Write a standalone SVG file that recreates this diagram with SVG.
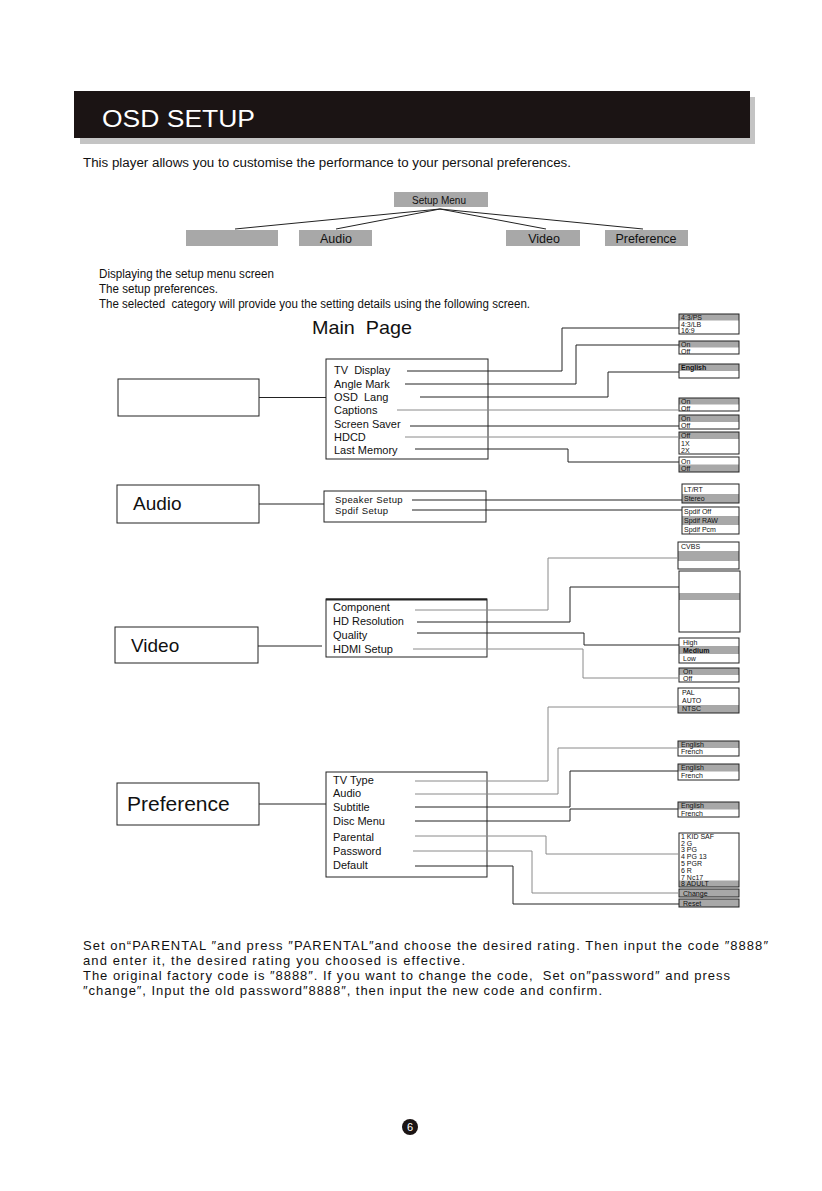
<svg xmlns="http://www.w3.org/2000/svg" width="822" height="1191" viewBox="0 0 822 1191">
<style>
text{white-space:pre}
.bx{fill:#fff;stroke:#222;stroke-width:1}
.ob{fill:none;stroke:#222;stroke-width:1}
.gr{fill:#a8a8a8}
.t7{font-family:"Liberation Sans",Arial,sans-serif;font-size:7px;fill:#111}
.t11{font-family:"Liberation Sans",Arial,sans-serif;font-size:11px;fill:#111}
.t12{font-family:"Liberation Sans",Arial,sans-serif;font-size:12px;fill:#111}
.t13{font-family:"Liberation Sans",Arial,sans-serif;font-size:13px;fill:#111}
.c{fill:none;stroke:#222;stroke-width:1}
.cg{fill:none;stroke:#8a8a8a;stroke-width:1}
</style>
<rect width="822" height="1191" fill="#fff"/>
<!-- header -->
<g id="header">
<rect x="80" y="97" width="675" height="47" fill="#c4c4c4"/>
<rect x="74" y="91" width="676" height="47" fill="#1b1414"/>
<text x="102" y="127" font-family="Liberation Sans,Arial,sans-serif" font-size="24" fill="#fff" textLength="153" lengthAdjust="spacingAndGlyphs">OSD SETUP</text>
</g>
<text class="t12" x="83" y="167" textLength="488" lengthAdjust="spacingAndGlyphs">This player allows you to customise the performance to your personal preferences.</text>

<!-- top setup menu tree -->
<g id="setup-tree">
<g id="setup-menu"><rect x="394" y="192" width="94" height="15" class="gr"/><text x="439" y="203.5" text-anchor="middle" font-family="Liberation Sans,Arial,sans-serif" font-size="10" fill="#111">Setup Menu</text></g>
<g id="top-blank"><rect x="186" y="230" width="92" height="16" class="gr"/></g>
<g id="top-audio"><rect x="299" y="230" width="73" height="16" class="gr"/><text x="336" y="243" text-anchor="middle" font-family="Liberation Sans,Arial,sans-serif" font-size="12.5" fill="#111">Audio</text></g>
<g id="top-video"><rect x="506" y="230" width="74" height="16" class="gr"/><text x="544" y="243" text-anchor="middle" font-family="Liberation Sans,Arial,sans-serif" font-size="12.5" fill="#111">Video</text></g>
<g id="top-pref"><rect x="605" y="230" width="83" height="16" class="gr"/><text x="646" y="243" text-anchor="middle" font-family="Liberation Sans,Arial,sans-serif" font-size="12.5" fill="#111">Preference</text></g>
<g id="top-connectors" class="c">
<path d="M440 209 L235 229"/>
<path d="M440 209 L336 229"/>
<path d="M440 209 L546 229"/>
<path d="M440 209 L643 229"/>
</g>
</g>

<text class="t12" x="99" y="278" textLength="175" lengthAdjust="spacingAndGlyphs">Displaying the setup menu screen</text>
<text class="t12" x="99" y="293" textLength="119" lengthAdjust="spacingAndGlyphs">The setup preferences.</text>
<text class="t12" x="99" y="308" textLength="431" lengthAdjust="spacingAndGlyphs">The selected  category will provide you the setting details using the following screen.</text>
<text x="312" y="334" font-family="Liberation Sans,Arial,sans-serif" font-size="19" fill="#111" textLength="100" lengthAdjust="spacingAndGlyphs">Main  Page</text>

<!-- main page section -->
<g id="main-blank"><rect x="118" y="379" width="141" height="37" class="bx"/></g>
<g id="main-menu">
<rect x="326" y="359" width="162" height="100" class="bx" stroke-width="1.5"/>
<text class="t11" x="334" y="374">TV  Display</text>
<text class="t11" x="334" y="388">Angle Mark</text>
<text class="t11" x="334" y="401">OSD  Lang</text>
<text class="t11" x="334" y="414">Captions</text>
<text class="t11" x="334" y="428">Screen Saver</text>
<text class="t11" x="334" y="441">HDCD</text>
<text class="t11" x="334" y="454">Last Memory</text>
</g>
<g id="opt-tvdisplay"><rect x="679" y="314" width="60" height="6.5" class="gr"/><rect x="679" y="314" width="60" height="20" class="ob"/><text class="t7" x="681" y="320">4:3/PS</text><text class="t7" x="681" y="326.5">4:3/LB</text><text class="t7" x="681" y="332.5">16:9</text></g>
<g id="opt-angle"><rect x="679" y="341" width="60" height="6.5" class="gr"/><rect x="679" y="341" width="60" height="13" class="ob"/><text class="t7" x="681" y="347">On</text><text class="t7" x="681" y="353.5">Off</text></g>
<g id="opt-osdlang"><rect x="679" y="364" width="60" height="7" class="gr"/><rect x="679" y="364" width="60" height="14" class="ob"/><text class="t7" x="681" y="370" font-weight="bold" font-size="6">English</text></g>
<g id="opt-captions"><rect x="679" y="398" width="60" height="6.5" class="gr"/><rect x="679" y="398" width="60" height="13" class="ob"/><text class="t7" x="681" y="404">On</text><text class="t7" x="681" y="410.5">Off</text></g>
<g id="opt-saver"><rect x="679" y="415" width="60" height="7" class="gr"/><rect x="679" y="415" width="60" height="14" class="ob"/><text class="t7" x="681" y="421">On</text><text class="t7" x="681" y="428">Off</text></g>
<g id="opt-hdcd"><rect x="679" y="432" width="60" height="7" class="gr"/><rect x="679" y="432" width="60" height="22" class="ob"/><text class="t7" x="681" y="438">Off</text><text class="t7" x="681" y="445.5">1X</text><text class="t7" x="681" y="452.5">2X</text></g>
<g id="opt-lastmem"><rect x="679" y="464.5" width="60" height="7.5" class="gr"/><rect x="679" y="457" width="60" height="15" class="ob"/><text class="t7" x="681" y="463.5">On</text><text class="t7" x="681" y="471">Off</text></g>

<!-- audio section -->
<g id="audio-node"><rect x="117" y="485" width="142" height="38" class="bx"/><text x="133" y="510" font-family="Liberation Sans,Arial,sans-serif" font-size="19" fill="#111">Audio</text></g>
<g id="audio-menu"><rect x="324" y="491" width="162" height="31" class="bx"/>
<text x="335" y="503" font-family="Liberation Sans,Arial,sans-serif" font-size="9.5" fill="#111" letter-spacing="0.4">Speaker Setup</text>
<text x="335" y="514" font-family="Liberation Sans,Arial,sans-serif" font-size="9.5" fill="#111" letter-spacing="0.4">Spdif Setup</text></g>
<g id="opt-speaker"><rect x="682" y="494" width="57" height="9" class="gr"/><rect x="682" y="484" width="57" height="19" class="ob"/><text class="t7" x="684" y="491.5">LT/RT</text><text class="t7" x="684" y="500.5">Stereo</text></g>
<g id="opt-spdif"><rect x="682" y="516" width="57" height="9" class="gr"/><rect x="682" y="507" width="57" height="27" class="ob"/><text class="t7" x="684" y="514">Spdif Off</text><text class="t7" x="684" y="523">Spdif RAW</text><text class="t7" x="684" y="532">Spdif Pcm</text></g>

<!-- video section -->
<g id="video-node"><rect x="115" y="627" width="143" height="36" class="bx"/><text x="131" y="652" font-family="Liberation Sans,Arial,sans-serif" font-size="19" fill="#111">Video</text></g>
<g id="video-menu"><rect x="326" y="599" width="161" height="58" class="bx"/><line x1="326" y1="599.5" x2="487" y2="599.5" stroke="#222" stroke-width="2"/>
<text class="t11" x="333" y="611">Component</text>
<text class="t11" x="333" y="625">HD Resolution</text>
<text class="t11" x="333" y="639">Quality</text>
<text class="t11" x="333" y="653">HDMI Setup</text></g>
<g id="opt-component"><rect x="678" y="551" width="61" height="10" class="gr"/><rect x="678" y="542" width="61" height="27" class="ob"/><text class="t7" x="681" y="549">CVBS</text></g>
<g id="opt-hdres"><rect x="679" y="593" width="61" height="7" class="gr"/><rect x="679" y="571" width="61" height="61" class="ob"/></g>
<g id="opt-quality"><rect x="679" y="646" width="60" height="8" class="gr"/><rect x="679" y="638" width="60" height="25" class="ob"/><text class="t7" x="683" y="644.5">High</text><text class="t7" x="683" y="652.5" font-weight="bold" font-size="6">Medium</text><text class="t7" x="683" y="660.5">Low</text></g>
<g id="opt-hdmi"><rect x="679" y="668" width="60" height="7" class="gr"/><rect x="679" y="668" width="60" height="14" class="ob"/><text class="t7" x="683" y="674">On</text><text class="t7" x="683" y="681">Off</text></g>

<!-- preference section -->
<g id="pref-node"><rect x="117" y="783" width="142" height="42" class="bx" stroke-width="2"/><text x="127" y="811" font-family="Liberation Sans,Arial,sans-serif" font-size="21" fill="#111">Preference</text></g>
<g id="pref-menu"><rect x="326" y="772" width="161" height="105" class="bx"/>
<text class="t11" x="333" y="784">TV Type</text>
<text class="t11" x="333" y="797">Audio</text>
<text class="t11" x="333" y="811">Subtitle</text>
<text class="t11" x="333" y="825">Disc Menu</text>
<text class="t11" x="333" y="841">Parental</text>
<text class="t11" x="333" y="855">Password</text>
<text class="t11" x="333" y="869">Default</text></g>
<g id="opt-tvtype"><rect x="678" y="705" width="61" height="8" class="gr"/><rect x="678" y="688" width="61" height="25" class="ob"/><text class="t7" x="682" y="695">PAL</text><text class="t7" x="682" y="703">AUTO</text><text class="t7" x="682" y="711">NTSC</text></g>
<g id="opt-audiolang"><rect x="678" y="741" width="61" height="7" class="gr"/><rect x="678" y="741" width="61" height="15" class="ob"/><text class="t7" x="681" y="747" font-size="6" fill="#555">English</text><text class="t7" x="681" y="754">French</text></g>
<g id="opt-subtitle"><rect x="678" y="764" width="61" height="7.5" class="gr"/><rect x="678" y="764" width="61" height="16" class="ob"/><text class="t7" x="681" y="770" font-size="6" fill="#555">English</text><text class="t7" x="681" y="778">French</text></g>
<g id="opt-discmenu"><rect x="678" y="802" width="61" height="7.5" class="gr"/><rect x="678" y="802" width="61" height="15" class="ob"/><text class="t7" x="681" y="808" font-size="6" fill="#555">English</text><text class="t7" x="681" y="815.5">French</text></g>
<g id="opt-parental"><rect x="679" y="880.5" width="60" height="6.5" class="gr"/><rect x="679" y="833" width="60" height="54" class="ob"/>
<text class="t7" x="681" y="839">1 KID SAF</text><text class="t7" x="681" y="845.5">2 G</text><text class="t7" x="681" y="852">3 PG</text><text class="t7" x="681" y="858.5">4 PG 13</text><text class="t7" x="681" y="866">5 PGR</text><text class="t7" x="681" y="873">6 R</text><text class="t7" x="681" y="879.5">7 Nc17</text><text class="t7" x="681" y="886">8 ADULT</text></g>
<g id="opt-password"><rect x="679" y="889" width="60" height="8" class="gr" stroke="#222" stroke-width="1"/><text class="t7" x="683" y="895.5">Change</text></g>
<g id="opt-default"><rect x="679" y="899" width="60" height="8" class="gr" stroke="#222" stroke-width="1"/><text class="t7" x="683" y="905.5" font-size="6">Reset</text></g>

<!-- connectors -->
<g id="connectors">
<path class="c" d="M259 397.5 H326"/>
<path class="c" d="M407 371 H562 V328 H679"/>
<path class="c" d="M405 384 H576 V345 H679"/>
<path class="c" d="M420 397 H608 V372 H679"/>
<path class="cg" d="M397 410 H679"/>
<path class="c" d="M410 426 H679"/>
<path class="cg" d="M405 437 H679"/>
<path class="c" d="M415 449 H568 V462 H679"/>
<path class="c" d="M259 504 H324"/>
<path class="c" d="M412 500 H682"/>
<path class="c" d="M412 510 H682"/>
<path class="c" d="M258 646 H322"/>
<path class="cg" d="M415 610 H548 V558 H678"/>
<path class="c" d="M417 622 H570 V587 H679"/>
<path class="c" d="M417 633 H584 V645 H679"/>
<path class="cg" d="M413 649 H583 V678 H679"/>
<path class="c" d="M259 804 H326"/>
<path class="cg" d="M415 781 H548 V707 H678"/>
<path class="cg" d="M415 794 H558 V748 H678"/>
<path class="c" d="M415 807 H570 V771 H678"/>
<path class="c" d="M415 821 H570 V809 H678"/>
<path class="cg" d="M415 836 H546 V854 H679"/>
<path class="cg" d="M413 851 H532 V893 H679"/>
<path class="c" d="M415 866 H513 V904 H679"/>
</g>

<!-- bottom text -->
<text class="t13" x="83" y="950" textLength="685" lengthAdjust="spacing">Set on“PARENTAL ″and press ″PARENTAL″and choose the desired rating. Then input the code ″8888″</text>
<text class="t13" x="83" y="965" textLength="382" lengthAdjust="spacing">and enter it, the desired rating you choosed is effective.</text>
<text class="t13" x="83" y="980" textLength="647" lengthAdjust="spacing">The original factory code is ″8888″. If you want to change the code,  Set on″password″ and press</text>
<text class="t13" x="83" y="995" textLength="519" lengthAdjust="spacing">″change″, Input the old password″8888″, then input the new code and confirm.</text>

<g id="page-number"><circle cx="410" cy="1127" r="8" fill="#1b1414"/><text x="410" y="1131" text-anchor="middle" font-family="Liberation Sans,Arial,sans-serif" font-size="11" fill="#fff">6</text></g>
</svg>
